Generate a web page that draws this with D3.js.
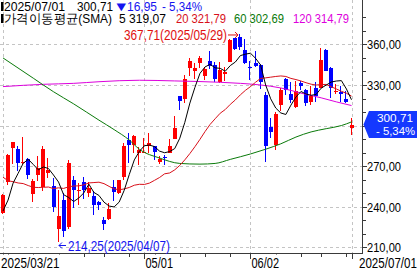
<!DOCTYPE html>
<html>
<head>
<meta charset="utf-8">
<script src="https://cdn.jsdelivr.net/npm/d3@7"></script>
<style>
  html, body { margin: 0; padding: 0; background: #fff; }
  svg { display: block; font-family: "Liberation Sans", Arial, sans-serif; }
</style>
</head>
<body>
<svg id="chart" width="420" height="273"></svg>
<script>
// daily candles, 2025/03/21 .. 2025/07/01
const dates = [
  '2025-03-21','2025-03-24','2025-03-25','2025-03-26','2025-03-27','2025-03-28','2025-03-31',
  '2025-04-01','2025-04-02','2025-04-03','2025-04-04','2025-04-07','2025-04-08','2025-04-09',
  '2025-04-10','2025-04-11','2025-04-14','2025-04-15','2025-04-16','2025-04-17','2025-04-21',
  '2025-04-22','2025-04-23','2025-04-24','2025-04-25','2025-04-28','2025-04-29','2025-04-30',
  '2025-05-01','2025-05-02','2025-05-05','2025-05-06','2025-05-07','2025-05-08','2025-05-09',
  '2025-05-12','2025-05-13','2025-05-14','2025-05-15','2025-05-16','2025-05-19','2025-05-20',
  '2025-05-21','2025-05-22','2025-05-23','2025-05-27','2025-05-28','2025-05-29','2025-05-30',
  '2025-06-02','2025-06-03','2025-06-04','2025-06-05','2025-06-06','2025-06-09','2025-06-10',
  '2025-06-11','2025-06-12','2025-06-13','2025-06-16','2025-06-17','2025-06-18','2025-06-20',
  '2025-06-23','2025-06-24','2025-06-25','2025-06-26','2025-06-27','2025-06-30','2025-07-01'
];
const opens = [
  234.99,258.08,283.60,282.66,272.48,275.58,249.31,263.80,254.60,265.29,255.38,223.78,245.00,224.69,
  260.00,251.84,258.36,249.91,247.61,243.47,230.26,230.96,254.86,250.50,261.69,288.98,285.50,279.90,
  280.01,284.90,284.57,273.11,276.88,279.63,290.21,321.99,320.00,342.50,340.34,346.24,336.30,347.87,
  344.43,331.90,337.92,347.35,364.84,365.29,355.52,343.50,346.60,345.10,322.49,298.83,285.96,314.94,
  334.40,323.08,313.97,331.29,326.09,317.31,327.95,327.54,356.17,342.70,324.61,324.51,319.90,298.46
];
const highs = [
  249.52,278.64,288.20,284.90,291.85,276.10,260.56,277.45,284.99,276.30,261.00,252.00,250.44,274.69,
  262.49,257.74,261.80,258.59,251.97,244.34,232.21,242.79,259.45,259.54,286.85,294.86,293.32,284.45,
  290.87,294.78,284.85,277.73,277.92,289.80,307.04,322.21,337.59,350.00,346.14,351.62,343.00,354.99,
  347.35,347.27,343.18,363.79,365.00,367.71,363.68,348.02,355.40,345.60,324.55,305.50,309.83,327.83,
  335.50,332.56,332.99,332.99,327.26,329.32,332.36,357.54,356.26,343.00,331.05,329.34,325.58,305.89
];
const lows = [
  234.55,256.33,271.28,266.51,271.82,260.57,243.36,259.25,251.27,261.51,236.00,214.25,217.80,223.88,
  239.33,241.36,245.93,247.54,233.89,237.68,222.79,229.85,244.43,249.20,259.63,272.42,279.47,270.78,
  279.81,279.81,274.40,271.35,271.00,279.41,290.00,311.50,316.80,337.00,334.72,342.33,333.37,341.63,
  332.20,331.39,333.21,347.32,355.91,356.00,345.29,333.33,343.04,327.33,273.21,291.14,281.85,310.67,
  322.50,316.86,313.30,326.41,314.74,315.45,317.78,327.48,340.44,320.40,323.61,317.50,316.60,293.21
];
const closes = [
  248.71,278.39,288.14,272.06,273.13,263.55,259.16,268.46,282.76,267.28,239.43,233.29,221.86,272.20,
  252.40,252.31,252.35,254.11,241.55,241.37,227.50,237.97,250.74,259.51,284.95,285.88,292.03,282.16,
  280.52,287.21,280.26,275.35,276.22,284.82,298.26,318.38,334.07,347.68,342.82,349.98,342.09,343.82,
  334.62,341.04,339.34,362.89,356.90,358.43,346.46,342.69,344.27,332.05,284.70,295.14,308.58,326.09,
  326.43,319.11,325.31,329.13,316.35,322.05,322.16,348.68,340.47,327.55,325.78,323.63,317.66,300.71
];
const prevClose = 317.66;

// moving averages, one per candle
const ma5 = [
  236.83,244.91,257.47,264.71,272.09,275.05,271.21,267.27,269.41,268.24,263.42,258.24,248.92,246.81,
  243.84,246.41,250.22,256.67,250.54,248.34,243.38,240.50,239.83,243.42,252.13,263.81,274.62,280.91,
  285.11,285.56,284.44,281.10,279.91,280.77,282.98,290.61,302.35,316.64,328.24,338.59,343.33,345.28,
  342.67,342.31,340.18,344.34,346.96,351.72,352.80,353.47,349.75,344.78,330.03,319.77,312.95,309.31,
  308.19,315.07,321.10,325.21,323.27,322.39,323.00,327.67,329.94,332.18,332.93,333.22,327.02,319.07
];
const ma20 = [
  261.83,259.22,258.49,257.55,257.11,255.64,254.37,254.19,254.37,254.56,253.40,253.96,253.52,254.73,
  255.31,255.43,256.15,257.59,257.87,258.13,257.07,255.04,253.17,252.55,253.14,254.25,255.90,256.58,
  256.47,257.47,259.51,261.61,264.33,264.96,267.25,270.56,274.64,279.32,284.39,289.82,295.55,300.84,
  305.03,309.11,311.83,315.68,318.92,322.74,326.03,328.81,332.01,334.84,335.27,335.78,336.30,336.68,
  336.30,334.87,334.00,332.95,331.67,330.58,329.96,330.34,330.39,328.63,327.07,325.33,323.89,321.79
];
// slow averages, sampled at candle indices
const ma60Idx = [0, 6, 10, 14, 19, 22, 25, 27, 31, 35, 39, 42, 45, 49, 52, 55, 58, 61, 64, 67, 69];
const ma60Val = [350, 335, 325, 316, 304, 297, 289.3, 282.5, 276, 272, 271.5, 272, 275, 279, 282.5, 286.5, 291.5, 295.3, 297.7, 300, 302.69];
const ma120Idx = [0, 8, 14, 19, 27, 34, 43, 47, 51, 55, 59, 63, 66, 69];
const ma120Val = [328.8, 330.5, 331.2, 332.4, 333.5, 333, 332, 331.2, 330, 327.8, 324, 320.5, 317.5, 314.79];

const yTicks = [210, 240, 270, 300, 330, 360];
const yMinor = [210, 220, 230, 240, 250, 260, 270, 280, 290, 300, 310, 320, 330, 340, 350, 360, 370, 380];
const labelDates = ['2025-03-21', '2025-05-01', '2025-06-02', '2025-07-01'];
const labelTexts = ['2025/03/21', '05/01', '06/02', '2025/07/01'];
const weekStarts = ['2025-03-24','2025-03-31','2025-04-07','2025-04-14','2025-04-21','2025-04-28','2025-05-05',
  '2025-05-12','2025-05-19','2025-05-27','2025-06-02','2025-06-09','2025-06-16','2025-06-23','2025-06-30'];

const C = { up: '#ff0000', down: '#0000ff', ma5: '#000000', ma20: '#d8101a', ma60: '#0a7a0a', ma120: '#dd00dd',
  grid: '#c4c4c4', axis: '#3a3a3a', blue: '#1414f0', box: '#1438ff' };

const svg = d3.select('#chart');
const fmt = v => v.toFixed(2).replace('.', ',');
const slash = d => d.replace(/-/g, '/');
const axisX = 362.5, axisY = 253.5;

const x = d3.scalePoint().domain(dates).range([3, 351.5]);
const y = d3.scaleLinear().domain([210, 360]).range([247.3, 44.4]);
const px = d => Math.round(x(d));

const last = closes[closes.length - 1];
const chg = last - prevClose, pct = chg / prevClose * 100;
const yc = y(last);

svg.append('defs').append('clipPath').attr('id', 'clip')
  .append('rect').attr('x', 0).attr('y', 0).attr('width', axisX).attr('height', axisY);

// grid
const grid = svg.append('g').attr('stroke', C.grid).attr('stroke-dasharray', '3,3').attr('shape-rendering', 'crispEdges');
grid.append('g').selectAll('line').data(yTicks).join('line')
  .attr('x1', 0).attr('x2', axisX).attr('y1', d => Math.round(y(d)) + 0.5).attr('y2', d => Math.round(y(d)) + 0.5);
grid.append('g').selectAll('line').data(labelDates).join('line')
  .attr('x1', d => px(d) + 0.5).attr('x2', d => px(d) + 0.5).attr('y1', 0).attr('y2', axisY);

// candles
const candles = dates.map((d, i) => ({ d, o: opens[i], h: highs[i], l: lows[i], c: closes[i] }));
const col = k => k.c >= k.o ? C.up : C.down;
const cg = svg.append('g').attr('clip-path', 'url(#clip)').attr('shape-rendering', 'crispEdges');
cg.selectAll('line').data(candles).join('line')
  .attr('x1', k => px(k.d) - 0.5).attr('x2', k => px(k.d) - 0.5)
  .attr('y1', k => y(k.h)).attr('y2', k => y(k.l)).attr('stroke', col);
cg.selectAll('rect').data(candles).join('rect')
  .attr('x', k => px(k.d) - 2).attr('width', 4)
  .attr('y', k => y(Math.max(k.o, k.c)))
  .attr('height', k => Math.max(1, Math.abs(y(k.o) - y(k.c))))
  .attr('fill', col);

// moving averages
const lg = svg.append('g').attr('clip-path', 'url(#clip)').attr('fill', 'none').attr('stroke-width', 1);
const line = d3.line().x(p => x(dates[p[0]])).y(p => y(p[1]));
const smooth = d3.line().x(p => x(dates[p[0]])).y(p => y(p[1])).curve(d3.curveMonotoneX);
lg.append('path').attr('d', smooth(ma120Idx.map((i, k) => [i, ma120Val[k]]))).attr('stroke', C.ma120);
lg.append('path').attr('d', smooth(ma60Idx.map((i, k) => [i, ma60Val[k]]))).attr('stroke', C.ma60);
lg.append('path').attr('d', line(ma20.map((v, i) => [i, v]))).attr('stroke', C.ma20);
lg.append('path').attr('d', line(ma5.map((v, i) => [i, v]))).attr('stroke', C.ma5);

// axes
const ax = svg.append('g').attr('stroke', C.axis).attr('shape-rendering', 'crispEdges');
ax.append('line').attr('x1', axisX).attr('x2', axisX).attr('y1', 0).attr('y2', axisY);
ax.append('line').attr('x1', 0).attr('x2', axisX).attr('y1', axisY).attr('y2', axisY);
ax.append('g').selectAll('line').data(yMinor).join('line')
  .attr('x1', axisX).attr('x2', d => axisX + (yTicks.includes(d) ? 4 : 3))
  .attr('y1', d => Math.round(y(d)) + 0.5).attr('y2', d => Math.round(y(d)) + 0.5);
ax.append('g').selectAll('line').data(weekStarts.concat(labelDates)).join('line')
  .attr('x1', d => px(d) + 0.5).attr('x2', d => px(d) + 0.5)
  .attr('y1', axisY).attr('y2', d => axisY + (labelDates.includes(d) ? 5 : 3.5));

// price labels, except where the current-price box sits
svg.append('g').selectAll('text').data(yTicks.filter(v => Math.abs(y(v) - yc) > 15)).join('text')
  .attr('x', 367).attr('y', d => y(d) + 4.8)
  .attr('textLength', 34).attr('lengthAdjust', 'spacingAndGlyphs')
  .style('font-size', '13px').attr('fill', '#000').text(d => fmt(d));

// bottom date labels on white boxes
const xl = svg.append('g');
labelDates.forEach((d, i) => {
  const end = i === labelDates.length - 1;
  const w = labelTexts[i].length > 5 ? 60 : 29;
  const x0 = end ? 418 - w : (i === 0 ? 1 : px(d) + 1.5);
  xl.append('rect').attr('x', x0).attr('y', axisY + 1).attr('width', w).attr('height', 273 - axisY).attr('fill', '#fff');
  if (end) {
    xl.append('text').attr('transform', 'translate(417,267.5) scale(0.8,1)').attr('text-anchor', 'end')
      .style('font-size', '14.5px').attr('fill', '#000').text(labelTexts[i]);
  } else {
    xl.append('text').attr('x', x0).attr('y', 267.5)
      .attr('textLength', w - 1.5).attr('lengthAdjust', 'spacingAndGlyphs')
      .style('font-size', '14.5px').attr('fill', '#000').text(labelTexts[i]);
  }
});

// high / low markers
const iHi = d3.maxIndex(highs), iLo = d3.minIndex(lows);
const hiY = y(highs[iHi]);
const hiX = px(dates[iHi]);
svg.append('text').attr('x', 124).attr('y', hiY + 6)
  .attr('textLength', 103).attr('lengthAdjust', 'spacingAndGlyphs')
  .style('font-size', '14px').attr('fill', '#e01010')
  .text(`${fmt(highs[iHi])}(${slash(dates[iHi])})`);
svg.append('path')
  .attr('d', `M228,${hiY + 1}H${hiX - 2}M${hiX - 5},${hiY - 2}L${hiX - 2},${hiY + 1}L${hiX - 5},${hiY + 4}`)
  .attr('stroke', '#e01010').attr('fill', 'none');
const loX = px(dates[iLo]);
svg.append('path')
  .attr('d', `M${loX + 7},245.5H${loX}M${loX + 3},242.5L${loX},245.5L${loX + 3},248.5`)
  .attr('stroke', C.blue).attr('fill', 'none');
svg.append('text').attr('x', loX + 9).attr('y', 250.5)
  .attr('textLength', 102).attr('lengthAdjust', 'spacingAndGlyphs')
  .style('font-size', '14px').attr('fill', C.blue)
  .text(`${fmt(lows[iLo])}(${slash(dates[iLo])})`);

// current price box
svg.append('path')
  .attr('d', `M363.5,${yc}L369,${yc - 13.5}H417V${yc + 13.5}H369Z`).attr('fill', C.box);
svg.append('text').attr('x', 395).attr('y', yc - 3).attr('text-anchor', 'middle')
  .attr('textLength', 36).attr('lengthAdjust', 'spacingAndGlyphs')
  .style('font-size', '11.5px').attr('fill', '#fff').text(fmt(last));
svg.append('text').attr('x', 395.5).attr('y', yc + 10.5).attr('text-anchor', 'middle')
  .attr('textLength', 39).attr('lengthAdjust', 'spacingAndGlyphs')
  .style('font-size', '11.5px').attr('fill', '#fff').text(`- ${fmt(Math.abs(pct))}%`);

// header
const hd = svg.append('g').style('font-size', '12px');
hd.append('rect').attr('x', 1).attr('y', 2).attr('width', 2.5).attr('height', 9).attr('fill', '#000');
hd.append('rect').attr('x', 1).attr('y', 14).attr('width', 2.5).attr('height', 9).attr('fill', '#000');
const ht = (t, x0, yb, w, fill) => hd.append('text').attr('x', x0).attr('y', yb).attr('fill', fill)
  .attr('textLength', w).attr('lengthAdjust', 'spacingAndGlyphs').text(t);
ht(slash(dates[dates.length - 1]), 4, 10.5, 61, '#000');
ht(fmt(last), 77, 10.5, 36, '#000');
ht('▼', 116.5, 10.2, 9.5, C.blue).style('font-family', '"DejaVu Sans"').style('font-size', '10px');
ht(fmt(Math.abs(chg)), 127, 10.5, 30, C.blue);
ht(`- ${fmt(Math.abs(pct))}%`, 162, 10.5, 40, C.blue);
ht('가격이동평균(SMA)', 4, 23, 108, '#000').style('font-size', '12.5px');
ht(`5 ${fmt(ma5[ma5.length - 1])}`, 119, 23, 47, '#000');
ht(`20 ${fmt(ma20[ma20.length - 1])}`, 176, 23, 50, C.ma20);
ht(`60 ${fmt(ma60Val[ma60Val.length - 1])}`, 234, 23, 50, C.ma60);
ht(`120 ${fmt(ma120Val[ma120Val.length - 1])}`, 293, 23, 56, C.ma120);
</script>
</body>
</html>
